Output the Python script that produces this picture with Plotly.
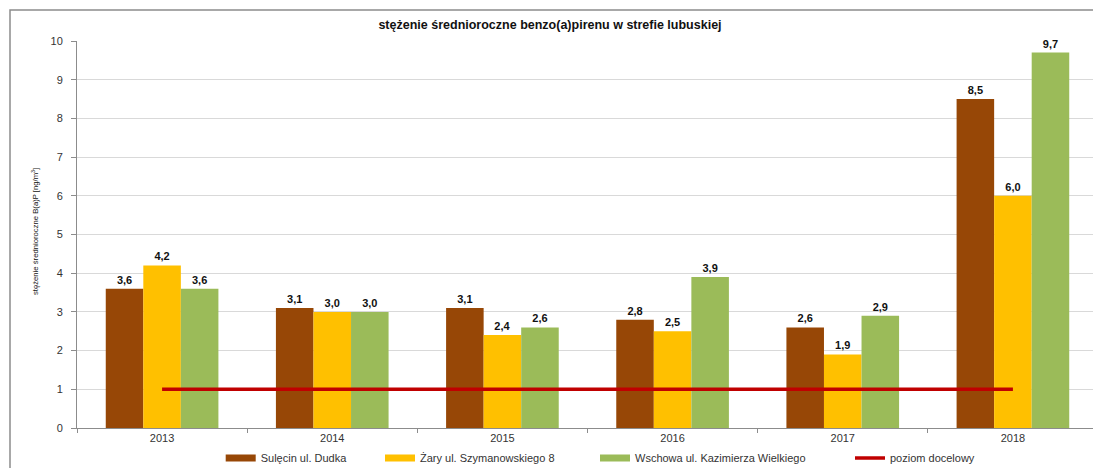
import plotly.graph_objects as go

years = ["2013", "2014", "2015", "2016", "2017", "2018"]
sulecin = [3.6, 3.1, 3.1, 2.8, 2.6, 8.5]
zary = [4.2, 3.0, 2.4, 2.5, 1.9, 6.0]
wschowa = [3.6, 3.0, 2.6, 3.9, 2.9, 9.7]
target = [1, 1, 1, 1, 1, 1]

series = [
    ("Sulęcin ul. Dudka", sulecin, "#974706"),
    ("Żary ul. Szymanowskiego 8", zary, "#FFC000"),
    ("Wschowa ul. Kazimierza Wielkiego", wschowa, "#9BBB59"),
]
target_name = "poziom docelowy"

# page is offset by the default 8px body margin
OFF = 8
W, H = 1101, 468
ml, mr, mt, mb = 77 - OFF, 11, 41 - OFF, 48
pw = W - ml - mr
ph = H - mt - mb

def px_x(x):  # page pixel -> paper x
    return (x - OFF - ml) / pw

def px_y(y):  # page pixel -> paper y
    return (H - mb - (y - OFF)) / ph

def fmt(v):
    return f"{v:.1f}".replace(".", ",")

legend_text_x = [260.7, 420, 635, 890]
legend_y = px_y(458)

fig = go.Figure()
for i, (name, vals, col) in enumerate(series):
    lg = "legend" if i == 0 else f"legend{i + 1}"
    fig.add_trace(go.Bar(
        x=years, y=vals, name=name, legendgroup=name, showlegend=False,
        marker=dict(color=col, line=dict(width=0)),
        text=[fmt(v) for v in vals], textposition="outside",
        textfont=dict(family="Liberation Sans, Arial", size=11, color="#111111"),
        texttemplate="<b>%{text}</b>",
        cliponaxis=False,
    ))
    # legend entry with wide Excel-like swatch
    fig.add_trace(go.Scatter(
        x=[None], y=[None], name=name, legendgroup=name, legend=lg,
        mode="lines", line=dict(color=col, width=7), hoverinfo="skip",
    ))

fig.add_trace(go.Scatter(
    x=years, y=target, name=target_name, mode="lines", legend="legend4",
    line=dict(color="#C00000", width=3.5),
))

legends = {}
for i, tx in enumerate(legend_text_x):
    key = "legend" if i == 0 else f"legend{i + 1}"
    legends[key] = dict(
        orientation="h", x=px_x(tx - 40), xanchor="left",
        y=legend_y, yanchor="middle",
        font=dict(family="Liberation Sans, Arial", size=11, color="#333333"),
        itemwidth=30, bgcolor="rgba(0,0,0,0)", borderwidth=0,
    )

fig.update_layout(
    width=W, height=H,
    margin=dict(l=ml, r=mr, t=mt, b=mb, autoexpand=False),
    paper_bgcolor="white", plot_bgcolor="white",
    barmode="group", bargap=0.338, bargroupgap=0,
    font=dict(family="Liberation Sans, Arial", size=11, color="#333333"),
    title=dict(
        text="<b>stężenie średnioroczne benzo(a)pirenu w strefie lubuskiej</b>",
        x=(550 - OFF) / W, xref="container", y=1 - (25 - OFF) / H, yref="container",
        xanchor="center", yanchor="middle",
        font=dict(family="Liberation Sans Narrow, Arial Narrow, Liberation Sans", size=12.5, color="#111111"),
    ),
    showlegend=True,
    **legends,
    xaxis=dict(
        showline=True, linecolor="#8c8c8c", linewidth=1,
        ticks="outside", ticklen=4, tickcolor="#8c8c8c", tickson="boundaries",
        showgrid=False, tickfont=dict(size=11, color="#333333"),
    ),
    yaxis=dict(
        range=[0, 10], dtick=1,
        showline=True, linecolor="#8c8c8c", linewidth=1,
        ticks="outside", ticklen=5, tickcolor="#8c8c8c",
        showgrid=True, gridcolor="#d9d9d9", gridwidth=1,
        zeroline=False, tickfont=dict(size=11, color="#333333"),
        ticklabelstandoff=6,
    ),
    shapes=[dict(
        type="rect", xref="paper", yref="paper",
        x0=px_x(10), x1=px_x(W + 30),
        y0=px_y(H + 30), y1=px_y(10),
        line=dict(color="#8c8c8c", width=1.5), fillcolor="rgba(0,0,0,0)",
        layer="below",
    )],
    annotations=[dict(
        text="stężenie średnioroczne B(a)P [ng/m<sup>3</sup>]",
        xref="paper", yref="paper", x=px_x(35), y=px_y(232),
        xanchor="center", yanchor="middle", textangle=-90, showarrow=False,
        font=dict(family="Liberation Sans Narrow, Arial Narrow, Liberation Sans", size=7.7, color="#111111"),
    )],
)

fig.write_html("out.html")
